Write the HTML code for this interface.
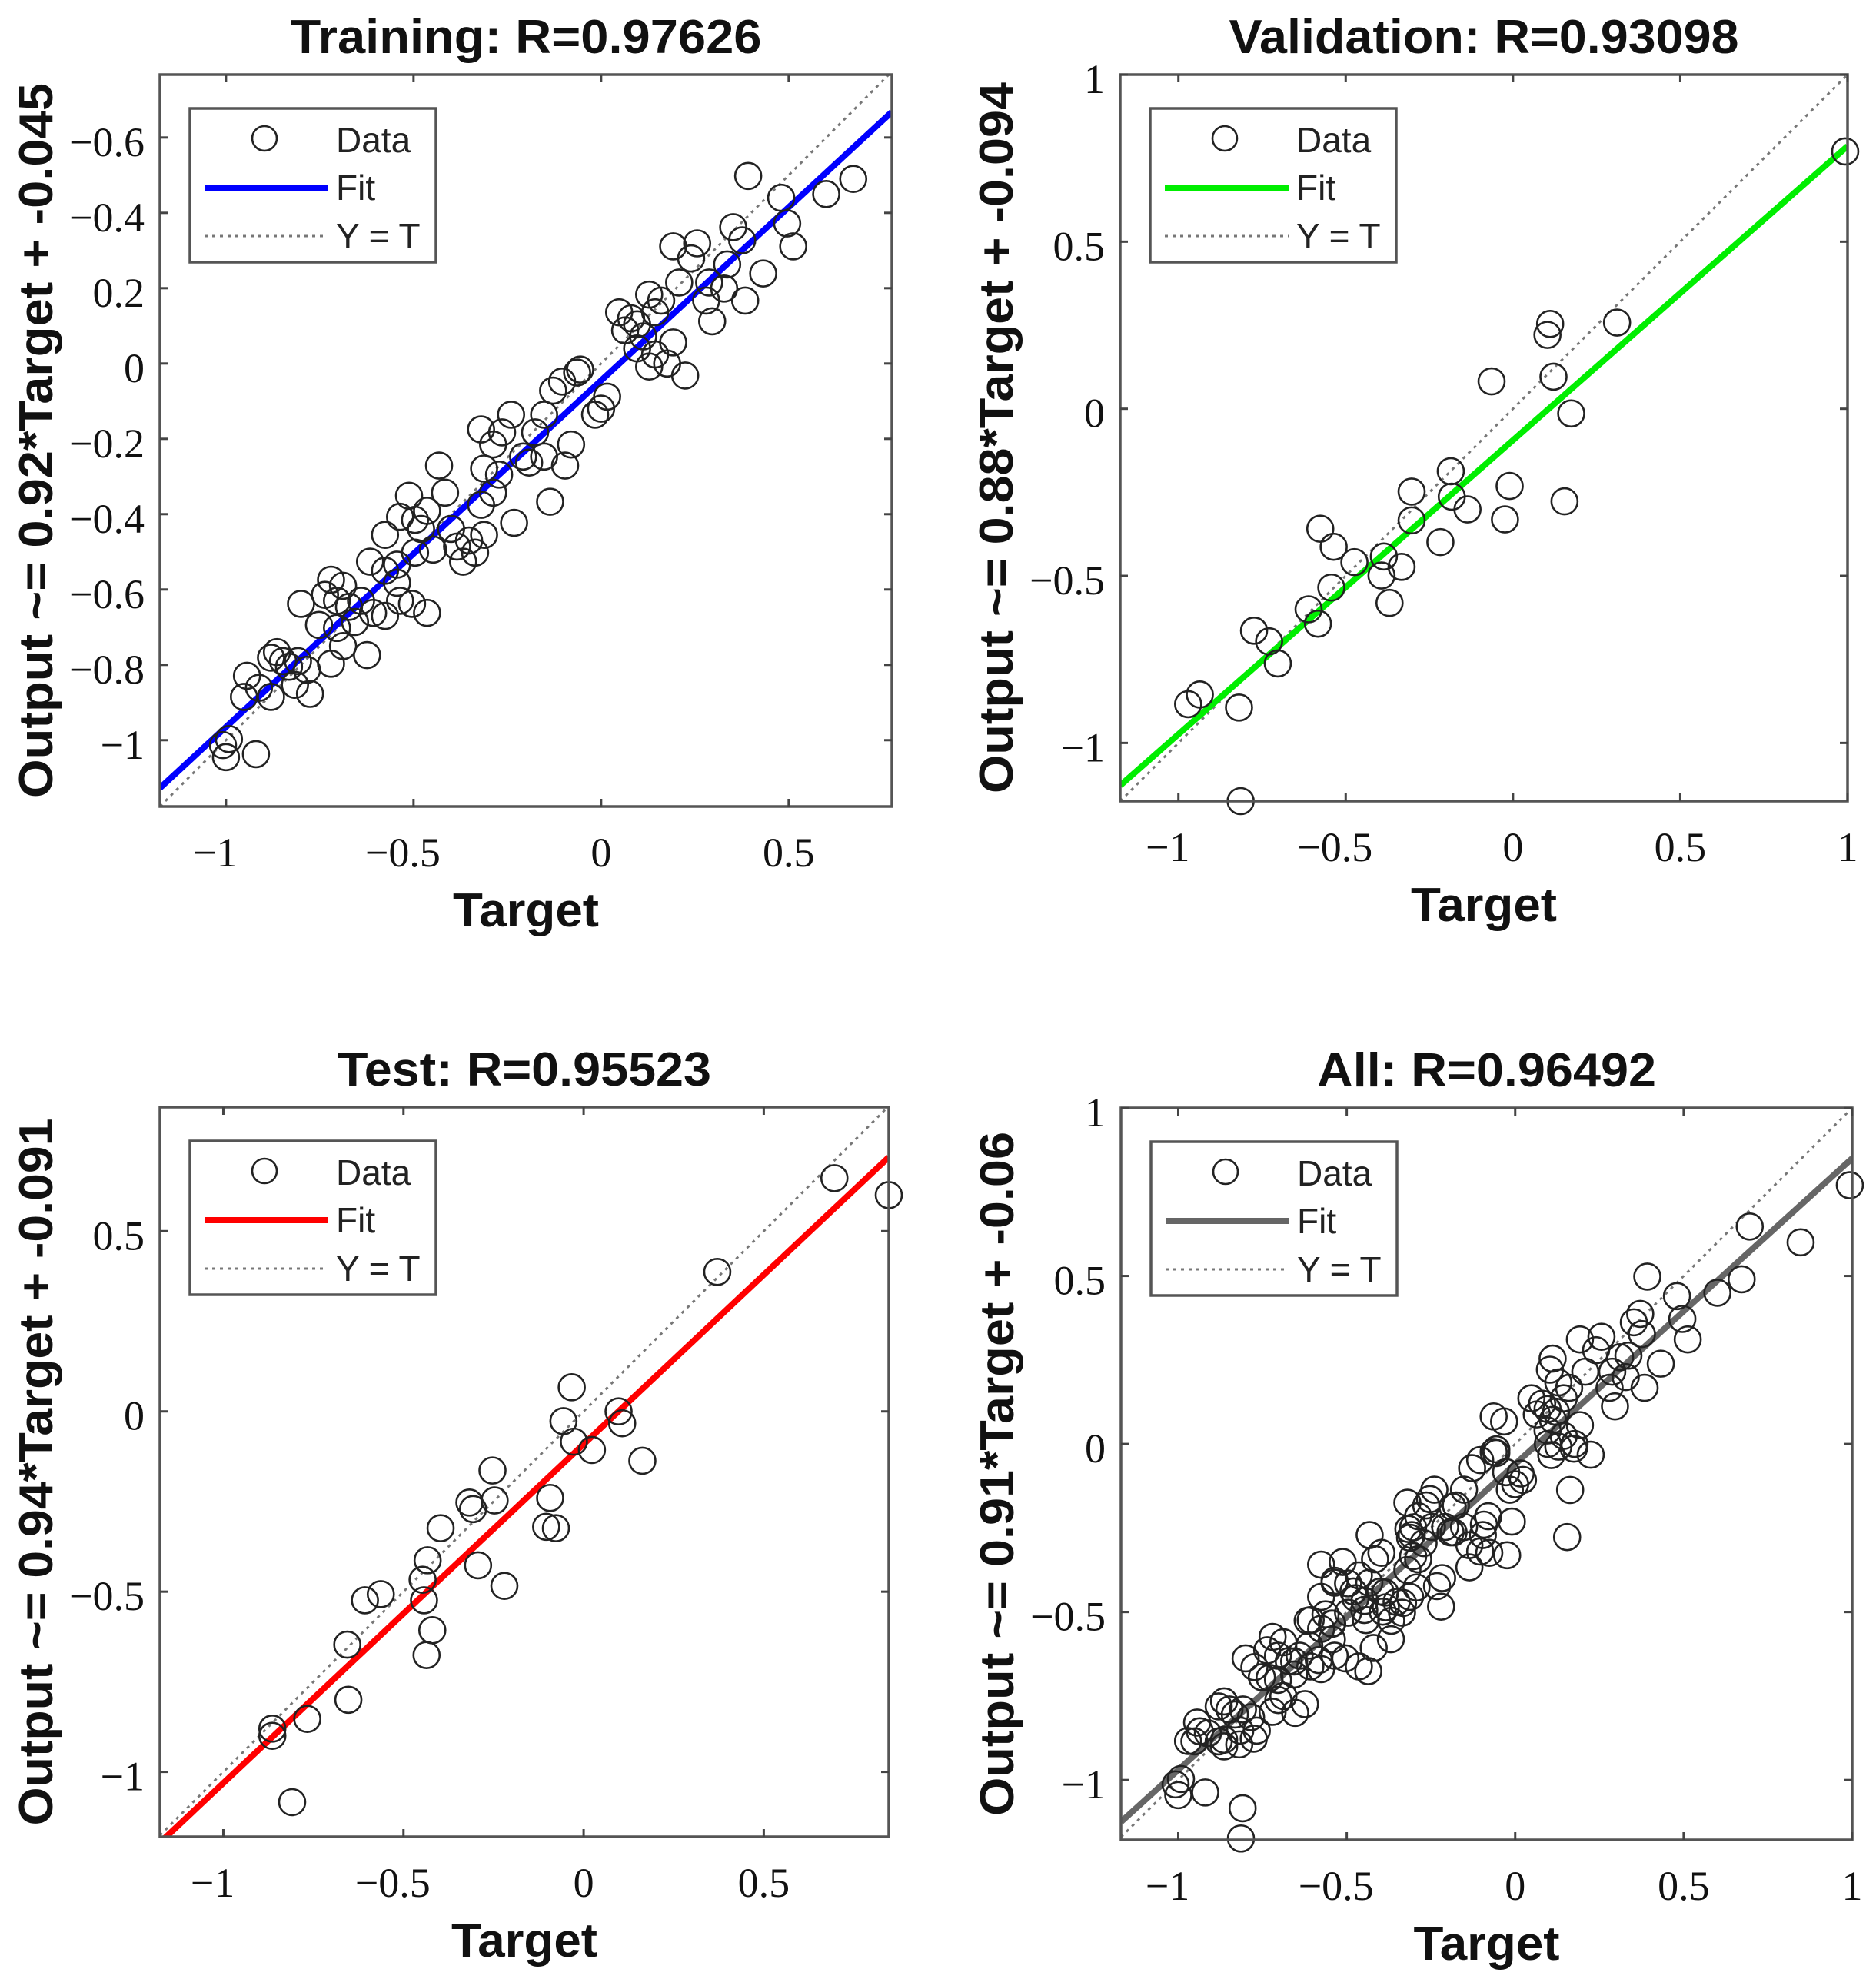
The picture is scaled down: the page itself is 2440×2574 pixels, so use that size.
<!DOCTYPE html>
<html><head><meta charset="utf-8"><style>
html,body{margin:0;padding:0;background:#fff;}
svg{display:block;}
.tick{font-family:"Liberation Serif",serif;font-size:54px;fill:#111;}
.ttl{font-family:"Liberation Sans",sans-serif;font-weight:bold;font-size:62px;fill:#111;}
.lg{font-family:"Liberation Sans",sans-serif;font-size:46px;fill:#222;}
</style></head><body>
<svg id="fig" width="2440" height="2574" viewBox="0 0 2440 2574" xmlns="http://www.w3.org/2000/svg"></svg>
<script>
const trainX=[0.392,0.672,0.6,0.48,0.496,0.512,0.352,0.256,0.192,0.24,0.376,0.432,0.384,0.296,0.28,0.328,0.208,0.16,0.128,0.096,0.064,0.048,0.112,0.192,0.144,0.176,0.224,0.128,0.096,-0.056,-0.104,-0.128,0.016,-0.016,-0.08,-0.096,-0.152,-0.176,-0.152,-0.136,-0.24,-0.264,-0.32,-0.208,-0.272,-0.312,-0.32,-0.288,-0.232,-0.432,-0.416,-0.464,-0.512,-0.536,-0.48,-0.576,-0.496,-0.448,-0.384,-0.352,-0.336,-0.368,-0.312,-0.616,-0.576,-0.544,-0.536,-0.504,-0.464,-0.72,-0.688,-0.736,-0.704,-0.672,-0.8,-0.64,-0.608,-0.576,-0.656,-0.704,-0.688,-0.752,-0.624,-0.72,-0.864,-0.848,-0.88,-0.832,-0.808,-0.784,-0.944,-0.912,-0.816,-0.776,-0.88,-0.952,-0.992,-1,-0.92,-1.008,-0.544,-0.496,-0.4,-0.288,-0.192,-0.064,0,0.08,0.144,0.288,0.336];
const trainY=[0.498,0.49,0.45,0.44,0.372,0.311,0.362,0.319,0.311,0.279,0.327,0.239,0.167,0.112,0.167,0.199,0.215,0.167,0.183,0.104,0.088,0.136,0.072,0.056,0.024,0,-0.032,-0.008,0.04,-0.016,-0.048,-0.072,-0.088,-0.136,-0.215,-0.271,-0.247,-0.183,-0.136,-0.367,-0.136,-0.183,-0.175,-0.247,-0.295,-0.279,-0.375,-0.343,-0.423,-0.271,-0.343,-0.391,-0.351,-0.407,-0.439,-0.455,-0.502,-0.494,-0.486,-0.47,-0.502,-0.526,-0.455,-0.526,-0.55,-0.582,-0.63,-0.638,-0.662,-0.574,-0.59,-0.614,-0.63,-0.646,-0.638,-0.63,-0.662,-0.67,-0.686,-0.702,-0.75,-0.694,-0.774,-0.797,-0.766,-0.79,-0.781,-0.805,-0.79,-0.813,-0.829,-0.861,-0.853,-0.877,-0.885,-0.885,-0.997,-1.045,-1.037,-1.013,-0.534,-0.415,-0.439,-0.215,-0.263,-0.024,-0.12,0.12,0.136,0.215,0.263];
const valX=[0.993,0.311,0.111,0.103,-0.064,0.121,0.174,-0.186,-0.183,-0.136,-0.01,0.154,-0.024,-0.303,-0.303,-0.217,-0.576,-0.536,-0.474,-0.386,-0.333,-0.393,-0.369,-0.543,-0.611,-0.583,-0.774,-0.729,-0.703,-0.936,-0.971,-0.819,-0.814];
const valY=[0.77,0.258,0.254,0.221,0.082,0.096,-0.014,-0.187,-0.263,-0.301,-0.231,-0.277,-0.331,-0.248,-0.334,-0.399,-0.359,-0.413,-0.459,-0.442,-0.473,-0.499,-0.581,-0.535,-0.6,-0.643,-0.664,-0.696,-0.762,-0.855,-0.884,-0.894,-1.174];
const testX=[0.696,0.847,0.371,-0.033,-0.056,0.097,0.107,-0.027,0.023,0.163,-0.253,-0.317,-0.307,-0.247,-0.093,-0.104,-0.077,-0.397,-0.433,-0.447,-0.443,-0.293,-0.22,-0.607,-0.563,-0.656,-0.42,-0.436,-0.653,-0.767,-0.864,-0.864,-0.809];
const testY=[0.647,0.6,0.387,0.067,-0.027,0,-0.033,-0.084,-0.107,-0.137,-0.164,-0.253,-0.271,-0.247,-0.24,-0.32,-0.324,-0.324,-0.413,-0.467,-0.524,-0.427,-0.484,-0.524,-0.507,-0.647,-0.607,-0.676,-0.8,-0.853,-0.88,-0.9,-1.084];
const allX=trainX.concat(valX,testX);
const allY=trainY.concat(valY,testY);
const fitSlopes=[0.92,0.88,0.94,0.91];
const fitOffsets=[-0.045,-0.094,-0.091,-0.06];
const titles=["Training: R=0.97626","Validation: R=0.93098","Test: R=0.95523","All: R=0.96492"];
const yLabels=["Output ~= 0.92*Target + -0.045","Output ~= 0.88*Target + -0.094","Output ~= 0.94*Target + -0.091","Output ~= 0.91*Target + -0.06"];
const trainXTicks=[-1,-0.5,0,0.5];
const trainXTickLabels=["\u22121","\u22120.5","0","0.5"];
const trainYTicks=[0.6,0.4,0.2,0,-0.2,-0.4,-0.6,-0.8,-1];
const trainYTickLabels=["\u22120.6","\u22120.4","0.2","0","\u22120.2","\u22120.4","\u22120.6","\u22120.8","\u22121"];
const fullTicks=[-1,-0.5,0,0.5,1];
const fullTickLabels=["\u22121","\u22120.5","0","0.5","1"];
const testYTicks=[0.5,0,-0.5,-1];
const testYTickLabels=["0.5","0","\u22120.5","\u22121"];

const NS="http://www.w3.org/2000/svg";
const svg=document.getElementById('fig');
function mk(tag,attrs,parent){const e=document.createElementNS(NS,tag);for(const k in attrs)e.setAttribute(k,attrs[k]);(parent||svg).appendChild(e);return e;}

const panels=[
 {key:'training',box:[208,97,1160,1049],xd:[-1.176,0.775],yd:[-1.176,0.767],xs:trainX,ys:trainY,color:'#0000ff',xt:trainXTicks,xtl:trainXTickLabels,yt:trainYTicks,ytl:trainYTickLabels,tw:613,yw:930},
 {key:'validation',box:[1457,97,2403,1042],xd:[-1.174,1],yd:[-1.174,1],xs:valX,ys:valY,color:'#00ee00',xt:fullTicks,xtl:fullTickLabels,yt:fullTicks,ytl:fullTickLabels,tw:663,yw:925},
 {key:'test',box:[208,1440,1156,2389],xd:[-1.176,0.847],yd:[-1.18,0.844],xs:testX,ys:testY,color:'#ff0000',xt:trainXTicks,xtl:trainXTickLabels,yt:testYTicks,ytl:testYTickLabels,tw:486,yw:920},
 {key:'all',box:[1458,1441,2409,2393],xd:[-1.17,1],yd:[-1.178,1],xs:allX,ys:allY,color:'#666666',xt:fullTicks,xtl:fullTickLabels,yt:fullTicks,ytl:fullTickLabels,tw:441,yw:890}
];

panels.forEach((p,i)=>{
 const [x0,y0,x1,y1]=p.box;
 const g=mk('g',{});
 
 
 const sx=v=>x0+(v-p.xd[0])/(p.xd[1]-p.xd[0])*(x1-x0);
 const sy=v=>y1-(v-p.yd[0])/(p.yd[1]-p.yd[0])*(y1-y0);
 const cid='clip'+i;
 const cp=mk('clipPath',{id:cid},g);mk('rect',{x:x0,y:y0,width:x1-x0,height:y1-y0},cp);
 const plot=mk('g',{'clip-path':'url(#'+cid+')'},g);
 const lo=Math.max(p.xd[0],p.yd[0]),hi=Math.min(p.xd[1],p.yd[1]);
 const yt=mk('line',{x1:sx(lo),y1:sy(lo),x2:sx(hi),y2:sy(hi),stroke:'#777','stroke-width':3,'stroke-dasharray':'4 6'},plot);
 
 
 const m=fitSlopes[i],b=fitOffsets[i];
 const fl=mk('line',{x1:sx(p.xd[0]),y1:sy(m*p.xd[0]+b),x2:sx(p.xd[1]),y2:sy(m*p.xd[1]+b),stroke:p.color,'stroke-width':8},plot);
 
 
 p.xs.forEach((xv,k)=>{
  const c=mk('circle',{cx:sx(xv),cy:sy(p.ys[k]),r:17,fill:'none',stroke:'#222','stroke-width':2.6},g);
  
  
 });
 const fr=mk('rect',{x:x0,y:y0,width:x1-x0,height:y1-y0,fill:'none',stroke:'#555','stroke-width':3.5},g);
 
 
 p.xt.forEach((v,k)=>{
  const X=sx(v);
  mk('line',{x1:X,y1:y1,x2:X,y2:y1-10,stroke:'#444','stroke-width':3},g);
  mk('line',{x1:X,y1:y0,x2:X,y2:y0+10,stroke:'#444','stroke-width':3},g);
  const t=mk('text',{x:X-(p.xtl[k].startsWith('\u2212')?14:0),y:y1+78,'text-anchor':'middle',class:'tick'},g);
  t.textContent=p.xtl[k];
  
  
 });
 p.yt.forEach((v,k)=>{
  const Y=sy(v);
  mk('line',{x1:x0,y1:Y,x2:x0+10,y2:Y,stroke:'#444','stroke-width':3},g);
  mk('line',{x1:x1,y1:Y,x2:x1-10,y2:Y,stroke:'#444','stroke-width':3},g);
  const t=mk('text',{x:x0-20,y:Y+24,'text-anchor':'end',class:'tick'},g);
  t.textContent=p.ytl[k];
  
  
 });
 const cx=(x0+x1)/2,cy=(y0+y1)/2;
 const tt=mk('text',{x:cx,y:y0-28,'text-anchor':'middle',class:'ttl',textLength:p.tw,lengthAdjust:'spacingAndGlyphs'},g);
 tt.textContent=titles[i];
 
 
 const xl=mk('text',{x:cx,y:y1+156,'text-anchor':'middle',class:'ttl',textLength:190,lengthAdjust:'spacingAndGlyphs'},g);
 xl.textContent='Target';
 
 
 const lx=x0-140;
 const yl=mk('text',{x:lx,y:cy,'text-anchor':'middle',class:'ttl',textLength:p.yw,lengthAdjust:'spacingAndGlyphs',transform:'rotate(-90 '+lx+' '+cy+')'},g);
 yl.textContent=yLabels[i];
 
 
 const lgx=x0+39,lgy=y0+44;
 const lg=mk('g',{},g);
 
 
 mk('rect',{x:lgx,y:lgy,width:320,height:200,fill:'#fff',stroke:'#555','stroke-width':3.5},lg);
 mk('circle',{cx:lgx+97,cy:lgy+39,r:16,fill:'none',stroke:'#222','stroke-width':2.6},lg);
 const d=mk('text',{x:lgx+190,y:lgy+57,class:'lg'},lg);d.textContent='Data';
 mk('line',{x1:lgx+19,y1:lgy+103,x2:lgx+180,y2:lgy+103,stroke:p.color,'stroke-width':8},lg);
 const f=mk('text',{x:lgx+190,y:lgy+119,class:'lg'},lg);f.textContent='Fit';
 mk('line',{x1:lgx+19,y1:lgy+166,x2:lgx+180,y2:lgy+166,stroke:'#777','stroke-width':3,'stroke-dasharray':'4 6'},lg);
 const yy=mk('text',{x:lgx+190,y:lgy+182,class:'lg'},lg);yy.textContent='Y = T';
});
</script>
</body></html>
